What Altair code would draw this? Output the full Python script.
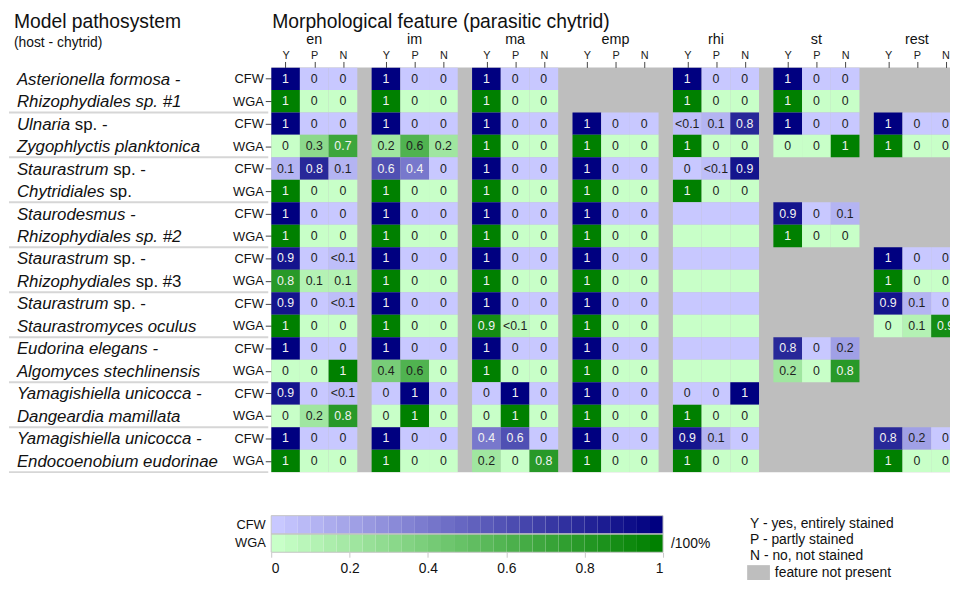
import altair as alt
import pandas as pd

FONT = "Liberation Sans"

features = ["en", "im", "ma", "emp", "rhi", "st", "rest"]
answers = ["Y", "P", "N"]
stains = ["CFW", "WGA"]

# One entry per feature: fractions "Y P N"; None = feature not present; "" = present, no values shown
cfw_rows = [
    ["1 0 0", "1 0 0", "1 0 0", None, "1 0 0", "1 0 0", None],
    ["1 0 0", "1 0 0", "1 0 0", "1 0 0", "<0.1 0.1 0.8", "1 0 0", "1 0 0"],
    ["0.1 0.8 0.1", "0.6 0.4 0", "1 0 0", "1 0 0", "0 <0.1 0.9", None, None],
    ["1 0 0", "1 0 0", "1 0 0", "1 0 0", "", "0.9 0 0.1", None],
    ["0.9 0 <0.1", "1 0 0", "1 0 0", "1 0 0", "", None, "1 0 0"],
    ["0.9 0 <0.1", "1 0 0", "1 0 0", "1 0 0", "", None, "0.9 0.1 0"],
    ["1 0 0", "1 0 0", "1 0 0", "1 0 0", "", "0.8 0 0.2", None],
    ["0.9 0 <0.1", "0 1 0", "0 1 0", "1 0 0", "0 0 1", None, None],
    ["1 0 0", "1 0 0", "0.4 0.6 0", "1 0 0", "0.9 0.1 0", None, "0.8 0.2 0"],
]
wga_rows = [
    ["1 0 0", "1 0 0", "1 0 0", None, "1 0 0", "1 0 0", None],
    ["0 0.3 0.7", "0.2 0.6 0.2", "1 0 0", "1 0 0", "1 0 0", "0 0 1", "1 0 0"],
    ["1 0 0", "1 0 0", "1 0 0", "1 0 0", "1 0 0", None, None],
    ["1 0 0", "1 0 0", "1 0 0", "1 0 0", "", "1 0 0", None],
    ["0.8 0.1 0.1", "1 0 0", "1 0 0", "1 0 0", "", None, "1 0 0"],
    ["1 0 0", "1 0 0", "0.9 <0.1 0", "1 0 0", "", None, "0 0.1 0.9"],
    ["0 0 1", "0.4 0.6 0", "1 0 0", "1 0 0", "", "0.2 0 0.8", None],
    ["0 0.2 0.8", "0 1 0", "0 1 0", "1 0 0", "1 0 0", None, None],
    ["1 0 0", "1 0 0", "0.2 0 0.8", "1 0 0", "1 0 0", None, "1 0 0"],
]

# Pathosystem names: (host line, chytrid line); each line = list of (text, italic)
species = [
    ([("Asterionella formosa -", True)], [("Rhizophydiales sp. #1", True)]),
    ([("Ulnaria", True), ("sp. -", False)], [("Zygophlyctis planktonica", True)]),
    ([("Staurastrum", True), ("sp. -", False)], [("Chytridiales", True), ("sp.", False)]),
    ([("Staurodesmus -", True)], [("Rhizophydiales sp. #2", True)]),
    ([("Staurastrum", True), ("sp. -", False)], [("Rhizophydiales", True), ("sp. #3", False)]),
    ([("Staurastrum", True), ("sp. -", False)], [("Staurastromyces oculus", True)]),
    ([("Eudorina elegans -", True)], [("Algomyces stechlinensis", True)]),
    ([("Yamagishiella unicocca -", True)], [("Dangeardia mamillata", True)]),
    ([("Yamagishiella unicocca -", True)], [("Endocoenobium eudorinae", True)]),
]

legend_ticks = [0, 0.2, 0.4, 0.6, 0.8, 1]
legend_steps = 30
key_lines = "Y - yes, entirely stained\nP - partly stained\nN - no, not stained"

# ---------- helpers ----------
ARIAL = {"U": 722, "l": 222, "n": 556, "a": 556, "r": 333, "i": 222, "S": 667, "t": 278,
         "u": 556, "m": 833, "C": 722, "h": 556, "y": 500, "d": 556, "e": 556, "s": 500,
         "R": 722, "z": 500, "o": 556, "p": 556, " ": 278}


def text_width(s, size):
    return sum(ARIAL.get(ch, 556) for ch in s) * size / 1000.0


def parse(tok):
    if tok.startswith("<"):
        return float(tok[1:]) / 2
    return float(tok)


GAP = 0.5
cells = []
for p, (cfw, wga) in enumerate(zip(cfw_rows, wga_rows)):
    for s, row in enumerate((cfw, wga)):
        r = 2 * p + s
        for g, entry in enumerate(row):
            if entry is None:
                continue
            toks = entry.split() if entry else ["", "", ""]
            for k, tok in enumerate(toks):
                v = parse(tok) if tok else 0.0
                x0 = g * (3 + GAP) + k
                cells.append(dict(stain=stains[s], feature=features[g], answer=answers[k],
                                  label=tok, v=v, c=v + 2 * s, x0=x0, x1=x0 + 1,
                                  xm=x0 + 0.5, y0=r, y1=r + 1, ym=r + 0.5))
cells = pd.DataFrame(cells)

NROWS = 2 * len(cfw_rows)
W = 686
CELL = 29.0
H = 409
xmax = W / CELL

xs = alt.Scale(domain=[0, xmax], nice=False, zero=False)
ys = alt.Scale(domain=[0, NROWS], nice=False, zero=False, reverse=True)
cs = alt.Scale(domain=[0, 1, 2, 3], range=["#c8c8ff", "#000080", "#c8ffc8", "#008000"],
               interpolate="rgb")

x_tick_vals = [g * (3 + GAP) + k + 0.5 for g in range(len(features)) for k in range(3)]
x_tick_vals = [v for v in x_tick_vals if v < xmax]

x_axis = alt.Axis(orient="top", values=x_tick_vals, tickCount=200,
                  labelExpr="['Y','P','N'][floor(datum.value % 3.5)]",
                  labelOverlap=False, labelBound=False,
                  tickSize=6, labelPadding=1, labelFontSize=11, labelFont=FONT,
                  labelColor="#222", tickColor="#444", domain=False, grid=False, title=None)
y_axis = alt.Axis(values=[r + 0.5 for r in range(NROWS)], tickCount=200,
                  labelExpr="floor(datum.value) % 2 == 0 ? 'CFW' : 'WGA'",
                  labelOverlap=False, labelBound=False,
                  tickSize=6, labelPadding=2, labelFontSize=13, labelFont=FONT,
                  labelColor="#111", tickColor="#444", domain=False, grid=False, title=None)

rects = alt.Chart(cells).mark_rect(clip=True).encode(
    x=alt.X("x0:Q", scale=xs, axis=x_axis),
    x2="x1:Q",
    y=alt.Y("y0:Q", scale=ys, axis=y_axis),
    y2="y1:Q",
    color=alt.Color("c:Q", scale=cs, legend=None),
)

light = "(datum.stain == 'CFW' && datum.v >= 0.3) || (datum.stain == 'WGA' && datum.v >= 0.65)"
cell_text = alt.Chart(cells).mark_text(clip=True, font=FONT, fontSize=12.5, baseline="middle").encode(
    x=alt.X("xm:Q", scale=xs),
    y=alt.Y("ym:Q", scale=ys),
    text="label:N",
    color=alt.condition(light, alt.value("#f2f2f2"), alt.value("#1e1e1e")),
)

grp = pd.DataFrame({"feature": features,
                    "xm": [g * (3 + GAP) + 1.5 for g in range(len(features))]})
grp_text = alt.Chart(grp).mark_text(font=FONT, fontSize=14.5, baseline="alphabetic", color="#111").encode(
    x=alt.X("xm:Q", scale=xs), y=alt.value(-24), text="feature:N")

seps = pd.DataFrame({"yb": [2 * (p + 1) for p in range(len(cfw_rows))]})
sep_rules = alt.Chart(seps).mark_rule(color="#d6d6d6", strokeWidth=2).encode(
    x=alt.value(-265), x2=alt.value(-3), y=alt.Y("yb:Q", scale=ys))

LX = -257
SP_SIZE = 17
name_layers = []
ital = []
for p, lines in enumerate(species):
    for li, segs in enumerate(lines):
        off = 0.0
        for text, it in segs:
            if it and off == 0.0:
                ital.append(dict(t=text, ym=2 * p + li + 0.5))
            else:
                d = pd.DataFrame({"t": [text], "ym": [2 * p + li + 0.5]})
                name_layers.append(
                    alt.Chart(d).mark_text(font=FONT, fontSize=SP_SIZE, align="left",
                                           baseline="middle", dy=1, fontStyle="italic" if it else "normal",
                                           color="#111").encode(
                        x=alt.value(LX + off), y=alt.Y("ym:Q", scale=ys), text="t:N"))
            off += text_width(text + " ", SP_SIZE)
name_layers.insert(0, alt.Chart(pd.DataFrame(ital)).mark_text(
    font=FONT, fontSize=SP_SIZE, align="left", baseline="middle", dy=1,
    fontStyle="italic", color="#111").encode(
    x=alt.value(LX), y=alt.Y("ym:Q", scale=ys), text="t:N"))

one = pd.DataFrame({"a": [0]})
title1 = alt.Chart(one).mark_text(text="Model pathosystem", font=FONT, fontSize=19.5,
                                  align="left", baseline="alphabetic", color="#111").encode(
    x=alt.value(-260), y=alt.value(-40))
title2 = alt.Chart(one).mark_text(text="(host - chytrid)", font=FONT, fontSize=14,
                                  align="left", baseline="alphabetic", color="#111").encode(
    x=alt.value(-260), y=alt.value(-21))
title3 = alt.Chart(one).mark_text(text="Morphological feature (parasitic chytrid)", font=FONT,
                                  fontSize=19.5, align="left", baseline="alphabetic",
                                  color="#111").encode(x=alt.value(1), y=alt.value(-40))

heat = alt.layer(rects, cell_text, grp_text, sep_rules, *name_layers, title1, title2, title3).properties(
    width=W, height=H, view=alt.ViewBackground(fill="#bebebe", stroke=None))

# ---------- colour key ----------
key = []
for s, st in enumerate(stains):
    for k in range(legend_steps):
        key.append(dict(stain=st, x0=k / legend_steps, x1=(k + 1) / legend_steps,
                        c=k / (legend_steps - 1) + 2 * s))
key = pd.DataFrame(key)
kxs = alt.Scale(domain=[0, 1], nice=False, zero=False)
kys = alt.Scale(domain=stains, paddingInner=0, paddingOuter=0)

key_rects = alt.Chart(key).mark_rect().encode(
    x=alt.X("x0:Q", scale=kxs,
            axis=alt.Axis(values=legend_ticks, format=".1~f", tickSize=5, tickColor="#c8c8c8",
                          labelFontSize=14, labelFont=FONT, labelColor="#111", labelPadding=4,
                          domain=False, grid=False, title=None)),
    x2="x1:Q",
    y=alt.Y("stain:N", scale=kys,
            axis=alt.Axis(ticks=False, domain=False, labelFontSize=13, labelFont=FONT,
                          labelColor="#111", labelPadding=6, title=None)),
    color=alt.Color("c:Q", scale=cs, legend=None),
)
frames = pd.DataFrame({"stain": stains, "x0": [0, 0], "x1": [1, 1]})
key_frame = alt.Chart(frames).mark_rect(fillOpacity=0, stroke="#c4c4c4", strokeWidth=1).encode(
    x=alt.X("x0:Q", scale=kxs), x2="x1:Q", y=alt.Y("stain:N", scale=kys))
pct = alt.Chart(one).mark_text(text="/100%", font=FONT, fontSize=14, align="left",
                               baseline="middle", color="#111").encode(
    x=alt.value(404), y=alt.value(29))
keytxt = alt.Chart(one).mark_text(text=key_lines, lineBreak="\n", lineHeight=16.5, font=FONT,
                                  fontSize=14, align="left", baseline="alphabetic",
                                  color="#111").encode(x=alt.value(484), y=alt.value(12))
gray_sq = alt.Chart(one).mark_rect(color="#bebebe").encode(
    x=alt.value(481), x2=alt.value(504), y=alt.value(50), y2=alt.value(65))
gray_txt = alt.Chart(one).mark_text(text="feature not present", font=FONT, fontSize=14,
                                    align="left", baseline="alphabetic", color="#111").encode(
    x=alt.value(509), y=alt.value(62))

legend_chart = alt.layer(key_rects, key_frame, pct, keytxt, gray_sq, gray_txt).properties(
    width=396, height=37, view=alt.ViewBackground(fill=None, stroke=None))

chart = alt.vconcat(heat, legend_chart, spacing=42).properties(
    padding={"left": 0, "top": 1, "right": 0, "bottom": 0}
).configure(font=FONT).configure_view(stroke=None)

chart.save("out.html", embed_options={"renderer": "svg", "actions": False})
